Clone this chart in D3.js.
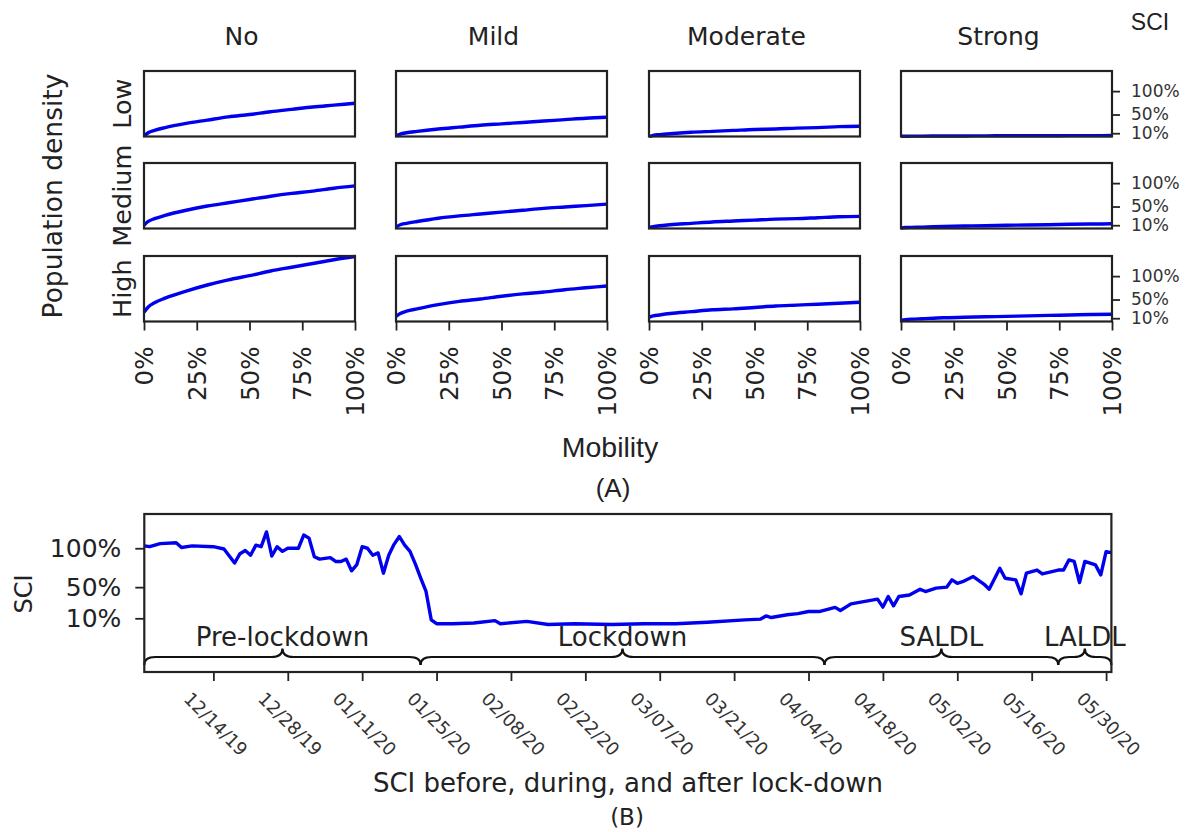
<!DOCTYPE html>
<html>
<head>
<meta charset="utf-8">
<script src="https://cdn.jsdelivr.net/npm/d3@7"></script>
<style>
  body { margin: 0; background: white; }
  text { font-family: 'DejaVu Sans', sans-serif; fill: #222; }
</style>
</head>
<body>
<div id="chart"></div>
<script>
// ---- panel (A): SCI vs mobility per lockdown strength and density ----
const policies = ['No', 'Mild', 'Moderate', 'Strong'];
const densities = ['Low', 'Medium', 'High'];
const mobility = [0, 2, 5, 10, 20, 30, 40, 50, 60, 70, 80, 90, 100];
const mobilityTicks = [0, 25, 50, 75, 100];
const sciTicks = [10, 50, 100];

const lowNo       = [4, 11, 16, 22, 31, 38, 45, 50, 56, 61, 66, 70, 74];
const lowMild     = [4, 8, 11, 14, 19, 23, 27, 30, 33, 36, 39, 42, 44];
const lowModerate = [3, 5.5, 7, 9, 12, 14, 16, 18, 19, 21, 22, 24, 25];
const lowStrong   = [3.5, 3.6, 3.7, 3.9, 4.1, 4.2, 4.4, 4.5, 4.6, 4.7, 4.8, 4.9, 5];

const mediumNo       = [10, 18, 24, 31, 42, 51, 58, 65, 72, 78, 83, 89, 94];
const mediumMild     = [6, 11, 14, 18, 25, 30, 34, 38, 42, 46, 49, 52, 55];
const mediumModerate = [5, 7, 9, 11, 14, 17, 19, 21, 23, 24, 26, 28, 29];
const mediumStrong   = [4, 5, 5.5, 6, 7.5, 8.5, 9, 10, 10.5, 11, 12, 12.5, 13];

const highNo       = [23, 34, 43, 53, 68, 81, 92, 101, 111, 119, 127, 135, 142];
const highMild     = [14, 20, 25, 30, 39, 46, 51, 57, 62, 66, 71, 75, 79];
const highModerate = [12, 15, 17, 20, 24, 28, 30, 33, 36, 38, 40, 42, 44];
const highStrong   = [6, 7, 8, 9, 11, 12, 13, 14, 15, 16, 17, 18, 18.5];

// ---- panel (B): SCI over time ----
const sciDates = [
  '2019-12-01','2019-12-02','2019-12-04','2019-12-07','2019-12-08','2019-12-10','2019-12-14','2019-12-16',
  '2019-12-18','2019-12-19','2019-12-20','2019-12-21','2019-12-22','2019-12-23','2019-12-24','2019-12-25',
  '2019-12-26','2019-12-27','2019-12-28','2019-12-30','2019-12-31',
  '2020-01-01','2020-01-02','2020-01-03','2020-01-05','2020-01-06','2020-01-07','2020-01-08','2020-01-09',
  '2020-01-10','2020-01-11','2020-01-12','2020-01-13','2020-01-14','2020-01-15','2020-01-16','2020-01-17',
  '2020-01-18','2020-01-19','2020-01-20','2020-01-21','2020-01-22','2020-01-23','2020-01-24','2020-01-25',
  '2020-01-28',
  '2020-02-01','2020-02-05','2020-02-06','2020-02-11','2020-02-15','2020-02-20','2020-02-27',
  '2020-03-04','2020-03-10','2020-03-16','2020-03-23','2020-03-26','2020-03-27','2020-03-28','2020-03-31',
  '2020-04-02','2020-04-04','2020-04-06','2020-04-09','2020-04-10','2020-04-12','2020-04-17','2020-04-18',
  '2020-04-19','2020-04-20','2020-04-21','2020-04-23','2020-04-25','2020-04-26','2020-04-28','2020-04-30',
  '2020-05-01','2020-05-02','2020-05-03','2020-05-05','2020-05-07','2020-05-08','2020-05-10','2020-05-11',
  '2020-05-13','2020-05-14','2020-05-15','2020-05-17','2020-05-18','2020-05-21','2020-05-22','2020-05-23',
  '2020-05-24','2020-05-25','2020-05-26','2020-05-28','2020-05-29','2020-05-30','2020-05-31'
];
const sciValues = [
  103, 102, 106, 107, 101, 103, 102, 99,
  81, 93, 97, 91, 104, 102, 121, 90,
  102, 96, 100, 100, 117,
  113, 89, 86, 88, 83, 83, 86, 71,
  79, 102, 100, 91, 94, 68, 91, 105,
  115, 104, 96, 80, 62, 45, 8, 3,
  3,
  4, 7, 3, 6, 2, 3, 2,
  3, 3, 5, 8, 9, 13, 11, 14.5,
  16, 18.7, 18.7, 24, 20, 28.6, 34.6, 24.4,
  38, 26, 38, 40, 47.4, 44.4, 48.7, 50,
  59.4, 55, 57, 63.6, 54, 47.4, 74.4, 61.5,
  59.4, 41.4, 68, 72, 67, 72, 72, 85,
  83, 56, 83, 78.6, 65.8, 95.6, 94.4
];
const dateTicks = ['2019-12-14','2019-12-28','2020-01-11','2020-01-25','2020-02-08','2020-02-22','2020-03-07',
  '2020-03-21','2020-04-04','2020-04-18','2020-05-02','2020-05-16','2020-05-30'];
const phaseNames = ['Pre-lockdown', 'Lockdown', 'SALDL', 'LALDL'];
const phaseStarts = ['2019-12-01', '2020-01-22', '2020-04-07', '2020-05-21'];
const phaseEnds = ['2020-01-22', '2020-04-07', '2020-05-21', '2020-05-31'];

const sciGrid = [
  [lowNo, lowMild, lowModerate, lowStrong],
  [mediumNo, mediumMild, mediumModerate, mediumStrong],
  [highNo, highMild, highModerate, highStrong]
];

const W = 1188, H = 832;
const svg = d3.select('#chart').append('svg').attr('width', W).attr('height', H);
svg.append('rect').attr('width', W).attr('height', H).attr('fill', 'white');

const lineColor = '#0000ee';
const frameColor = '#222';

// layout of the small multiples
const colLeft = [144, 396, 649, 901];
const rowTop = [71, 163, 256];
const panelW = 211, panelH = 65.5;

const x = d3.scaleLinear().domain([0, 100]).range([0, panelW]);
const y = d3.scaleLinear().domain([3, 143]).range([panelH, 0]);
const panelLine = d3.line()
  .x((d, i) => x(mobility[i]))
  .y(d => y(d))
  .curve(d3.curveMonotoneX);

densities.forEach((dens, r) => {
  policies.forEach((pol, c) => {
    const g = svg.append('g').attr('transform', `translate(${colLeft[c]},${rowTop[r]})`);

    g.append('path')
      .attr('d', panelLine(sciGrid[r][c]))
      .attr('fill', 'none')
      .attr('stroke', lineColor)
      .attr('stroke-width', 3.4);

    g.append('rect')
      .attr('width', panelW).attr('height', panelH)
      .attr('fill', 'none').attr('stroke', frameColor).attr('stroke-width', 2.2);

    if (r === densities.length - 1) {
      const ax = g.append('g').attr('transform', `translate(0,${panelH})`)
        .call(d3.axisBottom(x).tickValues(mobilityTicks).tickSize(9).tickFormat(d => d + '%'));
      ax.select('.domain').remove();
      ax.selectAll('line').attr('stroke', frameColor).attr('stroke-width', 1.8);
      ax.selectAll('text')
        .attr('y', null).attr('dy', null)
        .attr('transform', 'translate(0,25) rotate(-90)')
        .attr('text-anchor', 'end')
        .attr('dominant-baseline', 'central')
        .style('font-size', '24.5px').style('fill', '#222');
    }

    if (c === policies.length - 1) {
      const ay = g.append('g').attr('transform', `translate(${panelW},0)`)
        .call(d3.axisRight(y).tickValues(sciTicks).tickSize(8).tickPadding(11).tickFormat(d => d + '%'));
      ay.select('.domain').remove();
      ay.selectAll('line').attr('stroke', frameColor).attr('stroke-width', 1.8);
      ay.selectAll('text').style('font-size', '17px').style('fill', '#333');
    }
  });

  svg.append('text')
    .attr('transform', `translate(131,${rowTop[r] + panelH / 2}) rotate(-90)`)
    .attr('text-anchor', 'middle')
    .style('font-size', '25.5px')
    .text(dens);
});

policies.forEach((pol, c) => {
  svg.append('text')
    .attr('x', colLeft[c] + panelW / 2 - 8)
    .attr('y', 45)
    .attr('text-anchor', 'middle')
    .style('font-size', '25px')
    .text(pol);
});

svg.append('text')
  .attr('transform', 'translate(61.5,196) rotate(-90)')
  .attr('text-anchor', 'middle')
  .style('font-size', '26.5px')
  .text('Population density');

svg.append('text')
  .attr('x', 1150).attr('y', 30)
  .attr('text-anchor', 'middle')
  .style('font-family', "'Liberation Sans', Arial, sans-serif")
  .style('font-size', '23px')
  .text('SCI');

svg.append('text')
  .attr('x', 610).attr('y', 457)
  .attr('text-anchor', 'middle')
  .style('font-family', "'Liberation Sans', Arial, sans-serif")
  .style('font-size', '28.5px')
  .text('Mobility');

svg.append('text')
  .attr('x', 613).attr('y', 497)
  .attr('text-anchor', 'middle')
  .style('font-family', "'Liberation Sans', Arial, sans-serif")
  .style('font-size', '26px')
  .text('(A)');

// ---- panel (B) ----
const parseDate = d3.utcParse('%Y-%m-%d');
const series = sciDates.map((d, i) => ({ date: parseDate(d), value: sciValues[i] }));

const bLeft = 144.3, bRight = 1111.4, bTop = 514, bBottom = 672;
const bx = d3.scaleUtc()
  .domain([parseDate('2019-12-01'), parseDate('2020-05-31')])
  .range([bLeft, bRight]);
const by = d3.scaleLinear().domain([-59, 144]).range([bBottom, bTop]);

svg.append('path')
  .datum(series)
  .attr('d', d3.line().x(d => bx(d.date)).y(d => by(d.value)))
  .attr('fill', 'none')
  .attr('stroke', lineColor)
  .attr('stroke-width', 3.4)
  .attr('stroke-linejoin', 'round');

// curly braces for the phases
const yEnd = 665, yMid = 657, yTip = 648.5, curl = 11;
phaseNames.forEach((name, i) => {
  const x0 = bx(parseDate(phaseStarts[i]));
  const x1 = bx(parseDate(phaseEnds[i]));
  const xc = (x0 + x1) / 2;
  const p = d3.path();
  p.moveTo(x0, yEnd);
  p.quadraticCurveTo(x0, yMid, x0 + curl, yMid);
  p.lineTo(xc - curl, yMid);
  p.quadraticCurveTo(xc, yMid, xc, yTip);
  p.quadraticCurveTo(xc, yMid, xc + curl, yMid);
  p.lineTo(x1 - curl, yMid);
  p.quadraticCurveTo(x1, yMid, x1, yEnd);
  svg.append('path')
    .attr('d', p.toString())
    .attr('fill', 'none')
    .attr('stroke', '#111')
    .attr('stroke-width', 2.2);

  svg.append('text')
    .attr('x', xc).attr('y', 646)
    .attr('text-anchor', 'middle')
    .style('font-size', '26px')
    .text(name);
});

svg.append('rect')
  .attr('x', bLeft).attr('y', bTop)
  .attr('width', bRight - bLeft).attr('height', bBottom - bTop)
  .attr('fill', 'none').attr('stroke', frameColor).attr('stroke-width', 2.2);

const byAxis = svg.append('g').attr('transform', `translate(${bLeft},0)`)
  .call(d3.axisLeft(by).tickValues(sciTicks).tickSize(9).tickPadding(14).tickFormat(d => d + '%'));
byAxis.select('.domain').remove();
byAxis.selectAll('line').attr('stroke', frameColor).attr('stroke-width', 1.8);
byAxis.selectAll('text').style('font-size', '25px').style('fill', '#222');

const bxAxis = svg.append('g').attr('transform', `translate(0,${bBottom})`)
  .call(d3.axisBottom(bx).tickValues(dateTicks.map(parseDate)).tickSize(9).tickFormat(d3.utcFormat('%m/%d/%y')));
bxAxis.select('.domain').remove();
bxAxis.selectAll('line').attr('stroke', frameColor).attr('stroke-width', 1.8);
bxAxis.selectAll('text')
  .attr('y', null).attr('dy', null)
  .attr('transform', 'translate(2,52) rotate(45)')
  .attr('text-anchor', 'middle')
  .attr('dominant-baseline', 'central')
  .style('font-size', '18px').style('fill', '#333');

svg.append('text')
  .attr('transform', 'translate(32,594) rotate(-90)')
  .attr('text-anchor', 'middle')
  .style('font-size', '24px')
  .text('SCI');

svg.append('text')
  .attr('x', 628).attr('y', 792)
  .attr('text-anchor', 'middle')
  .style('font-size', '26px')
  .text('SCI before, during, and after lock-down');

svg.append('text')
  .attr('x', 627).attr('y', 825)
  .attr('text-anchor', 'middle')
  .style('font-size', '23px')
  .text('(B)');
</script>
</body>
</html>
